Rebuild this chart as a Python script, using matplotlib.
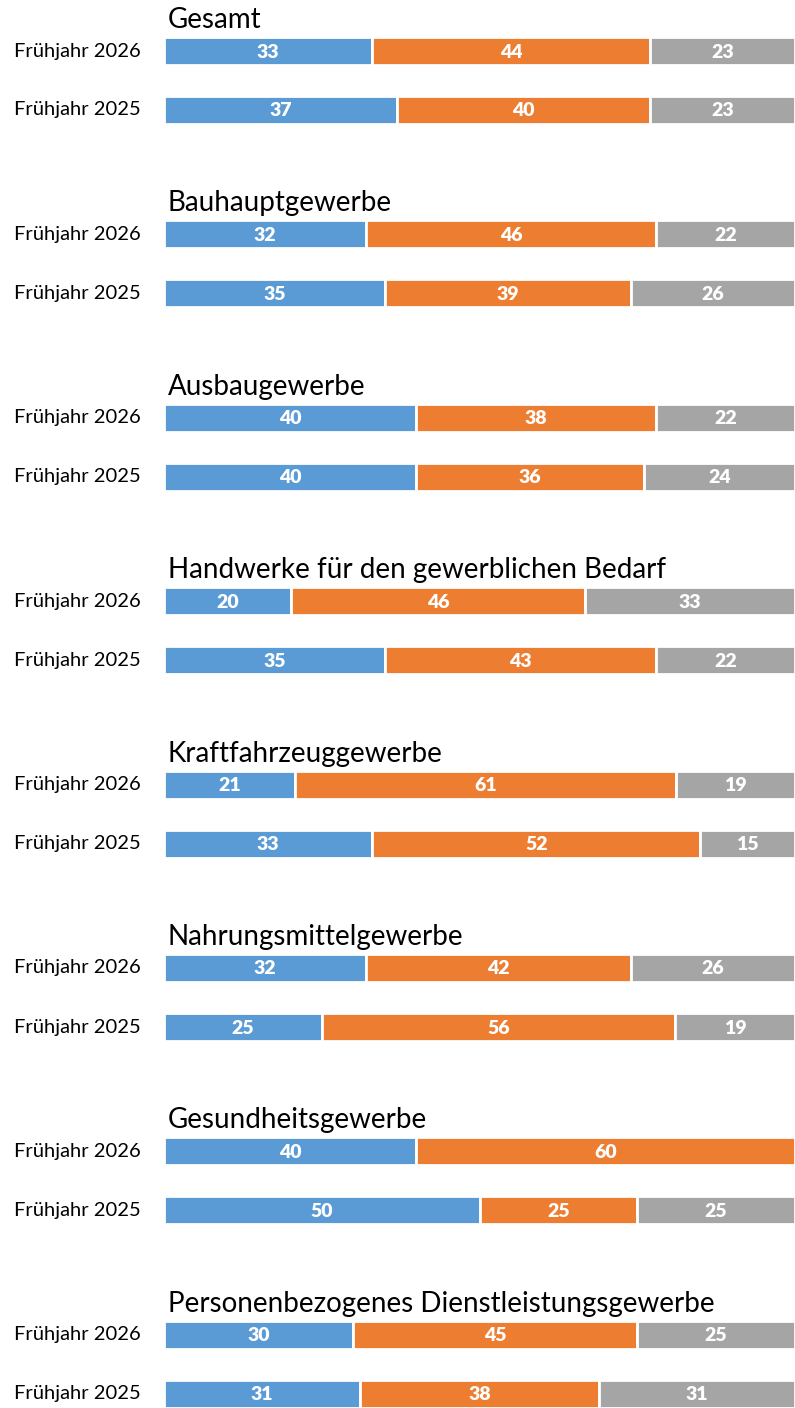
import matplotlib
matplotlib.use("Agg")
import matplotlib.pyplot as plt
from matplotlib.transforms import blended_transform_factory
import numpy as np

plt.rcParams['font.family'] = ['Lato', 'DejaVu Sans']

panels = ["Gesamt", "Bauhauptgewerbe", "Ausbaugewerbe",
          "Handwerke für den gewerblichen Bedarf", "Kraftfahrzeuggewerbe",
          "Nahrungsmittelgewerbe", "Gesundheitsgewerbe",
          "Personenbezogenes Dienstleistungsgewerbe"]
rows = ["Frühjahr 2026", "Frühjahr 2025"]

# values per panel: [2026, 2025]
blue = [[33, 37], [32, 35], [40, 40], [20, 35], [21, 33], [32, 25], [40, 50], [30, 31]]
orange = [[44, 40], [46, 39], [38, 36], [46, 43], [61, 52], [42, 56], [60, 25], [45, 38]]
gray = [[23, 23], [22, 26], [22, 24], [33, 22], [19, 15], [26, 19], [0, 25], [25, 31]]

colors = ["#5B9BD5", "#ED7D31", "#A5A5A5"]

W, H = 795, 1408
fig = plt.figure(figsize=(W / 100, H / 100), dpi=100)
ax = fig.add_axes([164 / W, 0, 1 - 164 / W, 1])
ax.set_xlim(0, 100)
ax.set_ylim(H, 0)
ax.axis("off")

first_center = 51
panel_step = 183.4
row_step = 59
bar_h = 28

lab_tr = blended_transform_factory(fig.transFigure, ax.transData)

for i, name in enumerate(panels):
    y26 = first_center + i * panel_step
    ys = [y26, y26 + row_step]
    for r in range(2):
        vals = np.array([blue[i][r], orange[i][r], gray[i][r]], dtype=float)
        norm = vals / vals.sum() * 100
        left = 0.0
        for k in range(3):
            if vals[k] > 0:
                ax.barh(ys[r], norm[k], left=left, height=bar_h, color=colors[k],
                        edgecolor="white", linewidth=2.0)
                ax.text(left + norm[k] / 2, ys[r] + 1, f"{int(vals[k])}",
                        ha="center", va="center", color="white",
                        fontsize=14, fontweight="heavy")
            left += norm[k]
        ax.text(141 / W, ys[r], rows[r], transform=lab_tr, ha="right",
                va="center", fontsize=14.5, color="black")
    ax.text(168 / W, y26 - 31, name, transform=lab_tr, ha="left",
            va="center", fontsize=20, color="black")

fig.savefig("out.png", dpi=100)
